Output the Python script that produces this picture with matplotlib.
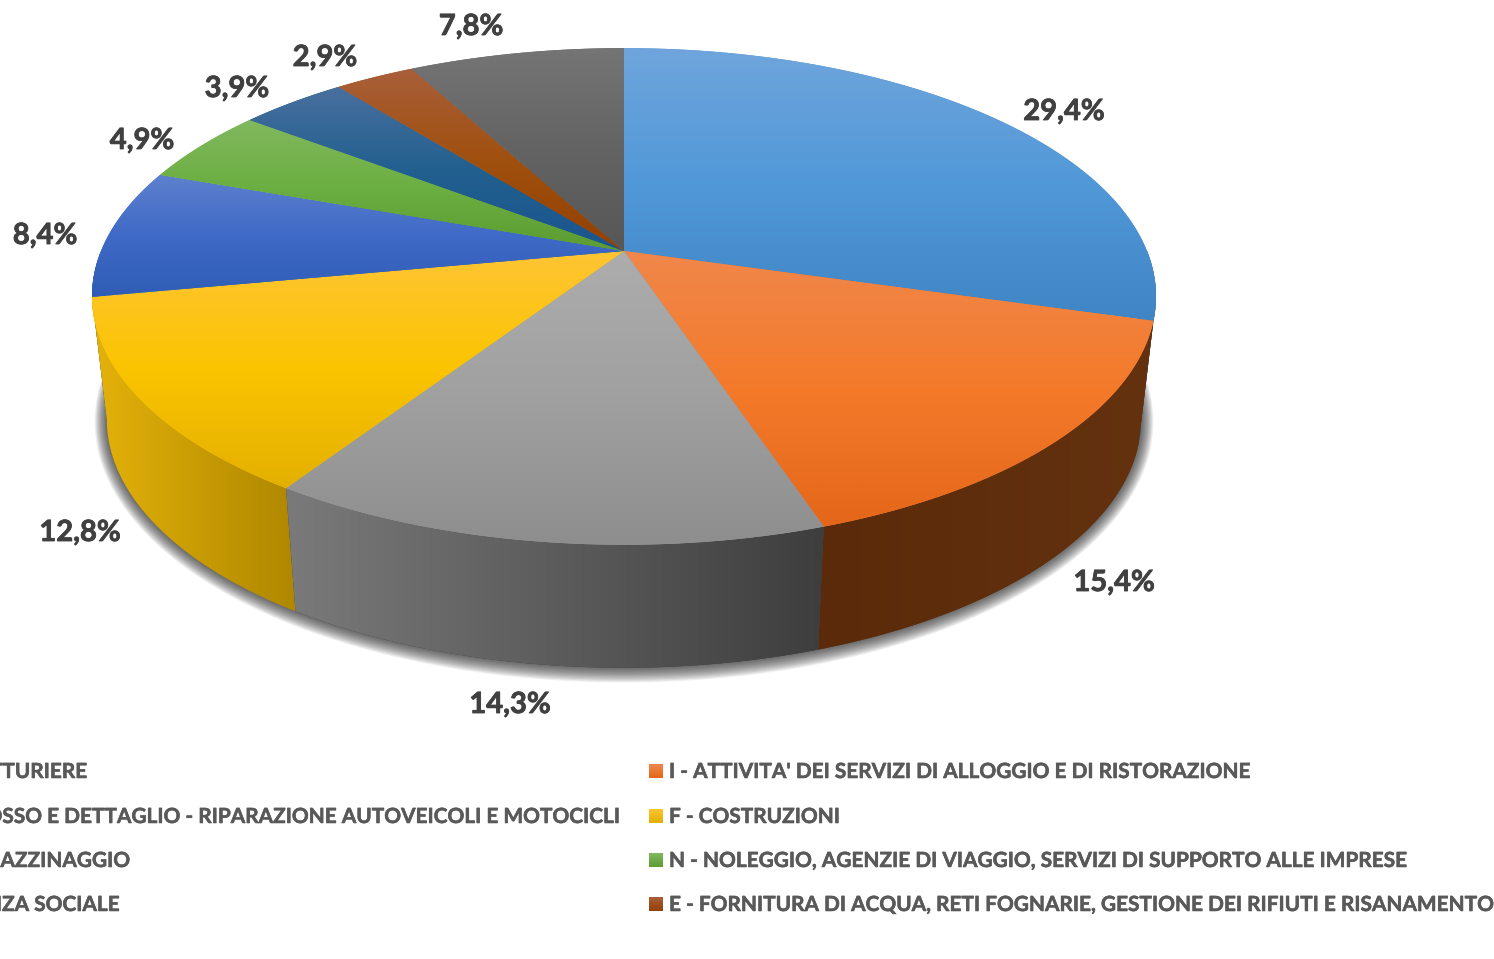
import numpy as np
import matplotlib
matplotlib.use("Agg")
import matplotlib.pyplot as plt
import matplotlib.patheffects as pe
from matplotlib.colors import LinearSegmentedColormap
from matplotlib.patches import Polygon

# slices, clockwise from 12 o'clock
values = [29.4, 15.4, 14.3, 12.8, 8.4, 4.9, 3.9, 2.9, 7.8]
value_labels = ["29,4%", "15,4%", "14,3%", "12,8%", "8,4%", "4,9%", "3,9%", "2,9%", "7,8%"]
label_pos = [(1064, 112), (1114, 583), (510, 705), (80, 533), (45, 236), (142, 141), (237, 89), (325, 58), (471, 27)]

top_light = ["#6FA5DC", "#F0874B", "#ADADAD", "#FFC535", "#5E80CE", "#82B85F", "#4A709F", "#A95F3A", "#757575"]
top_mid = ["#5198D8", "#F47A2A", "#A0A0A0", "#FBC400", "#3F6AC7", "#6CAF42", "#22608F", "#A0500F", "#636363"]
top_dark = ["#4085C4", "#E4661A", "#8E8E8E", "#E3B000", "#2F5DB5", "#5C9C32", "#1A558E", "#934000", "#575757"]
side_left = ["#2A5A85", "#5A2A0A", "#7A7A7A", "#E4B20A", "#2A4A90", "#3F6B25", "#14406B", "#6B2E00", "#404040"]
side_right = ["#2A5A85", "#64320F", "#3E3E3E", "#AF8700", "#2A4A90", "#3F6B25", "#14406B", "#6B2E00", "#404040"]

legend_left = ["C - ATTIVITA' MANIFATTURIERE",
               "G - COMMERCIO ALL'INGROSSO E DETTAGLIO - RIPARAZIONE AUTOVEICOLI E MOTOCICLI",
               "H - TRASPORTO E MAGAZZINAGGIO",
               "Q - SANITA' E ASSISTENZA SOCIALE"]
legend_right = ["I - ATTIVITA' DEI SERVIZI DI ALLOGGIO E DI RISTORAZIONE",
                "F - COSTRUZIONI",
                "N - NOLEGGIO, AGENZIE DI VIAGGIO, SERVIZI DI SUPPORTO ALLE IMPRESE",
                "E - FORNITURA DI ACQUA, RETI FOGNARIE, GESTIONE DEI RIFIUTI E RISANAMENTO"]
legend_right_idx = [1, 3, 5, 7]
legend_rows = [771, 816, 860, 904]
legend_left_ends = [87, 619, 130, 120]

# projection of the disc (apex, radii, perspective, thickness)
CX, CY = 624, 251
RX, RY = 523, 240
PERSP = 0.183
DEPTH = 123
BOTTOM_X = 0.972
TEXT = "#404040"
LEGEND_TEXT = "#595959"

plt.rcParams["font.family"] = ["Lato", "DejaVu Sans"]

fig = plt.figure(figsize=(14.94, 9.59), dpi=100)
ax = fig.add_axes([0, 0, 1, 1])
ax.set_xlim(0, 1494)
ax.set_ylim(959, 0)
ax.axis("off")


def rim(t, bottom=False, grow=0):
    u = np.sin(t)
    v = -np.cos(t)
    w = 1 - PERSP * v
    if bottom:
        return np.column_stack([CX + (RX * BOTTOM_X + grow) * u / w, CY + DEPTH + (RY + grow) * v / w])
    return np.column_stack([CX + RX * u / w, CY + RY * v / w])


def fill_gradient(pts, colors, horizontal=False):
    cmap = LinearSegmentedColormap.from_list("g", colors)
    ramp = np.linspace(0, 1, 256)
    ramp = ramp.reshape(1, -1) if horizontal else ramp.reshape(-1, 1)
    x0, y0 = pts.min(axis=0)
    x1, y1 = pts.max(axis=0)
    base = Polygon(pts, closed=True, fc=colors[len(colors) // 2], ec="none", zorder=3)
    ax.add_patch(base)
    im = ax.imshow(ramp, cmap=cmap, extent=[x0, x1, y1, y0], aspect="auto", zorder=3, interpolation="bilinear")
    im.set_clip_path(base)


# soft shadow under the disc
circle = np.linspace(0, 2 * np.pi, 361)
for g in range(12, -1, -1):
    ax.add_patch(Polygon(rim(circle, bottom=True, grow=g), closed=True, fc="#202020", ec="none", alpha=0.08, zorder=1))

shares = np.array(values) / sum(values)
edges = np.concatenate([[0], np.cumsum(shares)]) * 2 * np.pi

# side walls first (back ones before front ones), then the top faces
sides = []
for i in range(len(values)):
    t = np.linspace(edges[i], edges[i + 1], 120)
    t = t[-np.cos(t) > 0]
    if len(t) >= 2:
        sides.append((np.mean(-np.cos(t)), i, t))
for _, i, t in sorted(sides, key=lambda s: s[0]):
    pts = np.vstack([rim(t), rim(t[::-1], bottom=True)])
    fill_gradient(pts, [side_left[i], side_right[i]], horizontal=True)

for i in range(len(values)):
    t = np.linspace(edges[i], edges[i + 1], 120)
    pts = np.vstack([[CX, CY], rim(t)])
    fill_gradient(pts, [top_light[i], top_mid[i], top_dark[i]])

bolder = [pe.withStroke(linewidth=0.6, foreground=TEXT)]
for txt, (x, y) in zip(value_labels, label_pos):
    ax.text(x, y, txt, ha="center", va="center", fontsize=21, fontweight="bold", color=TEXT, zorder=5,
            path_effects=bolder)

# legend, left column runs off the edge of the picture
legend_bolder = [pe.withStroke(linewidth=0.4, foreground=LEGEND_TEXT)]
for txt, end, y in zip(legend_left, legend_left_ends, legend_rows):
    ax.text(end, y + 1, txt, ha="right", va="center", fontsize=15, fontweight="bold", color=LEGEND_TEXT, zorder=5,
            path_effects=legend_bolder)
for txt, i, y in zip(legend_right, legend_right_idx, legend_rows):
    box = np.array([[649, y - 7], [663, y - 7], [663, y + 7], [649, y + 7]])
    fill_gradient(box, [top_light[i], top_dark[i]])
    ax.text(669, y + 1, txt, ha="left", va="center", fontsize=15, fontweight="bold", color=LEGEND_TEXT, zorder=5,
            path_effects=legend_bolder)

ax.set_xlim(0, 1494)
ax.set_ylim(959, 0)
fig.savefig("out.png", dpi=100)
